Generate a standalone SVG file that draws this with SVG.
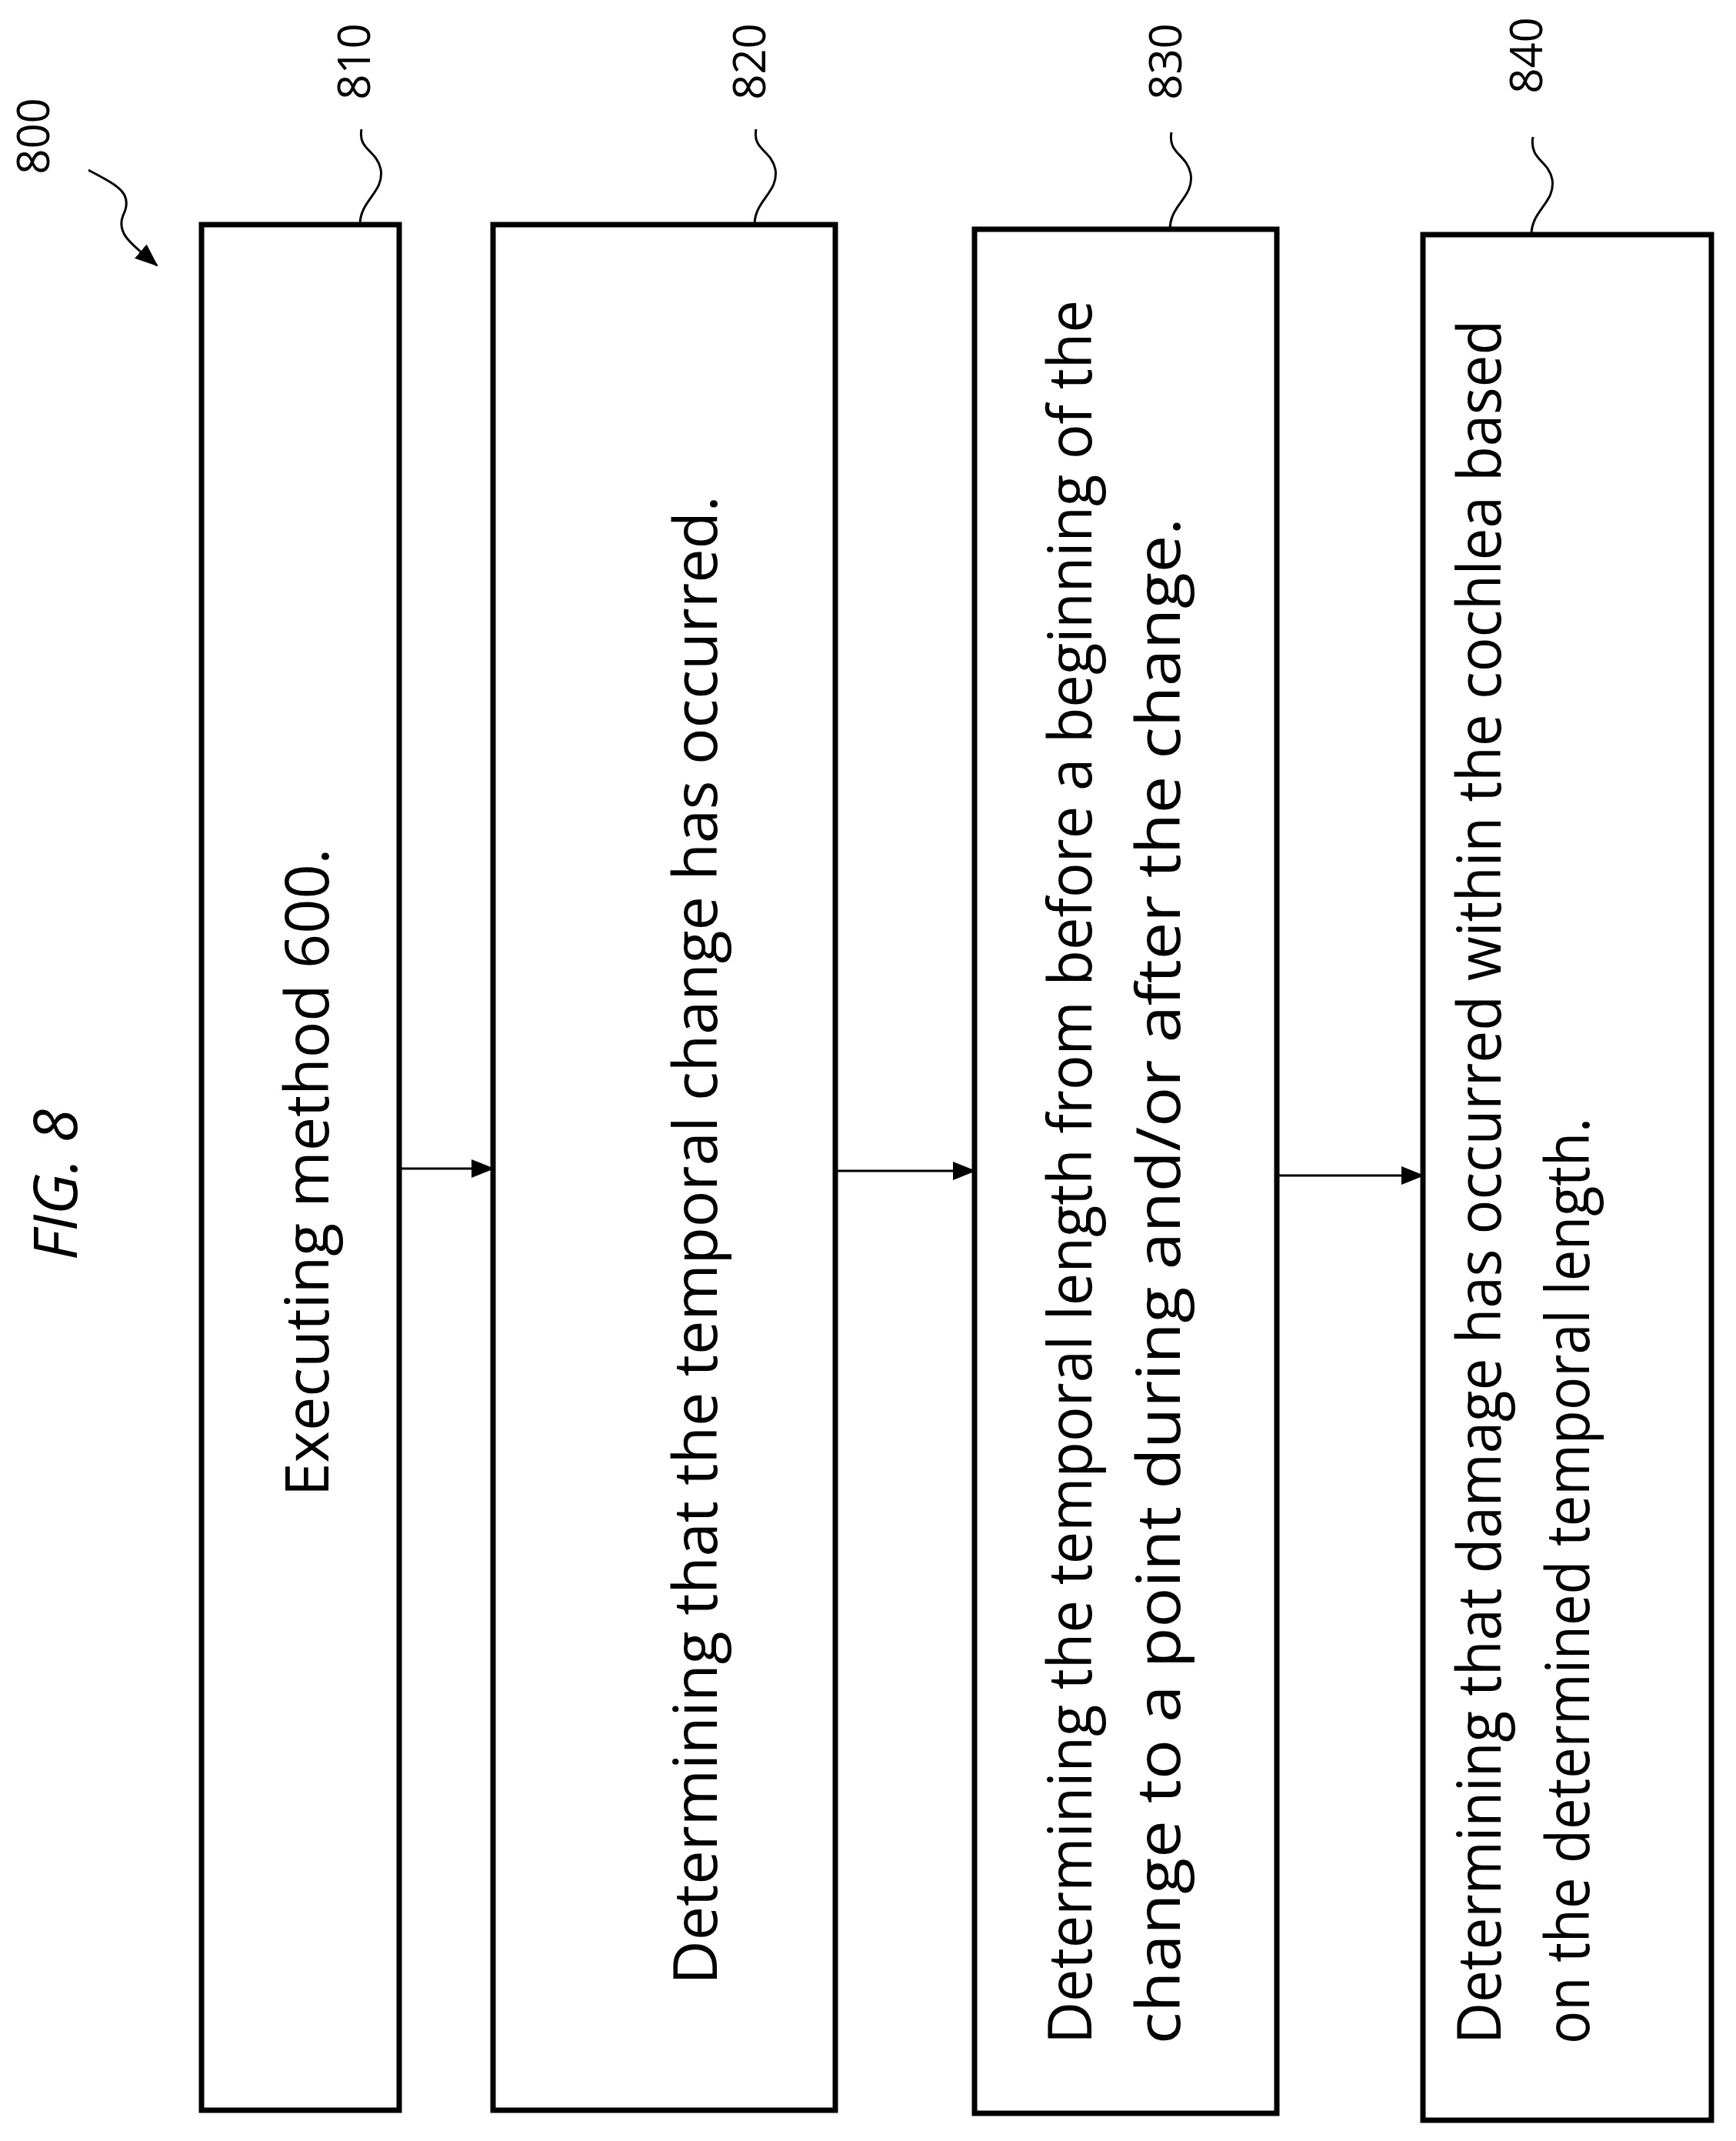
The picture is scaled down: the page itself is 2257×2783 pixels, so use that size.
<svg xmlns="http://www.w3.org/2000/svg" width="2257" height="2783" viewBox="0 0 2257 2783">
<style>
.b{fill:#fff;stroke:#000;stroke-width:7}
.t{font-family:"Open Sans","Liberation Sans",sans-serif;font-size:79px;fill:#000}
.l{font-family:"Open Sans","Liberation Sans",sans-serif;font-size:58px;fill:#000}
.c{fill:none;stroke:#000;stroke-width:3}
</style>
<defs>
<marker id="a2" markerWidth="30" markerHeight="24" refX="28" refY="12" orient="auto" markerUnits="userSpaceOnUse" viewBox="0 0 30 24"><path d="M0,0L30,12L0,24z"/></marker></defs>
<rect width="2257" height="2783" fill="#fff"/>
<text class="t" font-style="italic" transform="translate(100,1540) rotate(-90)" text-anchor="middle">FIG. 8</text>
<text class="l" transform="translate(64,177) rotate(-90)" text-anchor="middle">800</text>
<path class="c" d="M115,221 C150,240 175,250 160,280 C150,305 175,320 204,345" marker-end="url(#a2)"/>
<g id="n810"><rect class="b" x="262" y="292" width="257" height="2451"/>
<text class="t" transform="translate(427,1524) rotate(-90)" text-anchor="middle">Executing method 600.</text>
<text class="l" transform="translate(481,80) rotate(-90)" text-anchor="middle">810</text>
<path class="c" d="M468,292 C468,260 500,250 495,220 C490,195 465,195 470,168"/></g>
<g id="n820"><rect class="b" x="641" y="292" width="445" height="2451"/>
<text class="t" transform="translate(932,1612) rotate(-90)" text-anchor="middle">Determining that the temporal change has occurred.</text>
<text class="l" transform="translate(995,80) rotate(-90)" text-anchor="middle">820</text>
<path class="c" d="M981,292 C981,260 1013,250 1008,220 C1003,195 978,195 983,168"/></g>
<g id="n830"><rect class="b" x="1267" y="298" width="393" height="2449"/>
<text class="t" transform="translate(1419,2657) rotate(-90)" textLength="2267" lengthAdjust="spacingAndGlyphs">Determining the temporal length from before a beginning of the</text>
<text class="t" transform="translate(1534,2657) rotate(-90)" textLength="1984" lengthAdjust="spacingAndGlyphs">change to a point during and/or after the change.</text>
<text class="l" transform="translate(1536,80) rotate(-90)" text-anchor="middle">830</text>
<path class="c" d="M1521,298 C1521,266 1553,256 1548,226 C1543,200 1518,200 1523,172"/></g>
<g id="n840"><rect class="b" x="1850" y="305" width="375" height="2451"/>
<text class="t" transform="translate(1951,2657) rotate(-90)" textLength="2241" lengthAdjust="spacingAndGlyphs">Determining that damage has occurred within the cochlea based</text>
<text class="t" transform="translate(2066,2657) rotate(-90)" textLength="1204" lengthAdjust="spacingAndGlyphs">on the determined temporal length.</text>
<text class="l" transform="translate(2005,72) rotate(-90)" text-anchor="middle">840</text>
<path class="c" d="M1991,305 C1991,273 2023,263 2018,233 C2013,208 1988,208 1993,178"/></g>
<g id="connectors" stroke="#000" stroke-width="3">
<line x1="519" y1="1519" x2="641" y2="1519" marker-end="url(#a2)"/>
<line x1="1086" y1="1522" x2="1267" y2="1522" marker-end="url(#a2)"/>
<line x1="1660" y1="1528" x2="1850" y2="1528" marker-end="url(#a2)"/>
</g>
</svg>
